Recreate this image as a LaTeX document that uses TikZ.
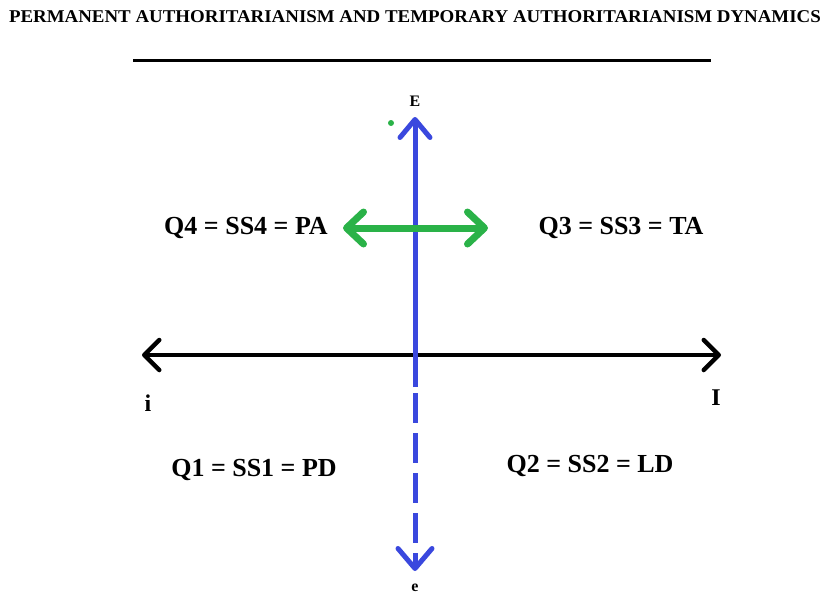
\documentclass[tikz,border=0pt]{standalone}
\usepackage{fontspec}
\setmainfont{Liberation Serif}
\usetikzlibrary{arrows.meta}
\definecolor{axblue}{RGB}{58,72,222}
\definecolor{axgreen}{RGB}{42,178,72}
\tikzset{
  ktip/.tip={Straight Barb[length=15pt,width=30pt,line cap=round,line join=round]},
  btip/.tip={Straight Barb[length=18pt,width=30pt,line cap=round,line join=round]},
  bbtip/.tip={Straight Barb[length=20pt,width=34pt,line cap=round,line join=round]},
  gtip/.tip={Straight Barb[length=17pt,width=32pt,line cap=round,line join=round]}
}
\begin{document}
\begin{tikzpicture}[x=1pt,y=-1pt,
  lbl/.style={font=\fontsize{26}{28}\selectfont\bfseries, inner sep=0pt},
  axl/.style={font=\fontsize{16}{18}\selectfont\bfseries, inner sep=0pt},
  bigl/.style={font=\fontsize{24}{26}\selectfont\bfseries, inner sep=0pt},
  dbarb/.style={{ktip}-{ktip}},
  gbarb/.style={{gtip}-{gtip}}]
\useasboundingbox (0,0) rectangle (828,597);
% title
\node[font=\fontsize{18}{20}\selectfont\bfseries, inner sep=0pt] (title) at (415,17) {\scalebox{1.05}[1]{PERMANENT AUTHORITARIANISM AND TEMPORARY AUTHORITARIANISM DYNAMICS}};
\draw[line width=3pt] (133,60) -- (711,60);
% coordinates
\coordinate (top) at (415,117);
\coordinate (mid) at (415,387);
\coordinate (dstart) at (415,393);
\coordinate (bot) at (415,571);
\coordinate (left) at (142,355);
\coordinate (right) at (721,355);
\coordinate (gl) at (343,228);
\coordinate (gr) at (488,228);
% black horizontal axis
\draw[line width=4.5pt, dbarb] (left) -- (right);
% blue vertical axis
\draw[axblue, line width=5pt, -{btip}] (mid) -- (top);
\draw[axblue, line width=5pt, dash pattern=on 30pt off 10pt, -{bbtip}] (dstart) -- (bot);
% green arrow
\draw[axgreen, line width=7pt, gbarb] (gl) -- (gr);
\fill[axgreen] (391,123) circle (3);
% labels
\node[axl] (E) at (415,101) {E};
\node[axl] (e) at (415,588) {e};
\node[bigl] (i) at (148,403) {i};
\node[bigl] (I) at (716,398) {I};
\node[lbl] (q4) at (246,228) {Q4 = SS4 = PA};
\node[lbl] (q3) at (621,228) {Q3 = SS3 = TA};
\node[lbl] (q1) at (254,470) {Q1 = SS1 = PD};
\node[lbl] (q2) at (590,466) {Q2 = SS2 = LD};
\end{tikzpicture}
\end{document}
